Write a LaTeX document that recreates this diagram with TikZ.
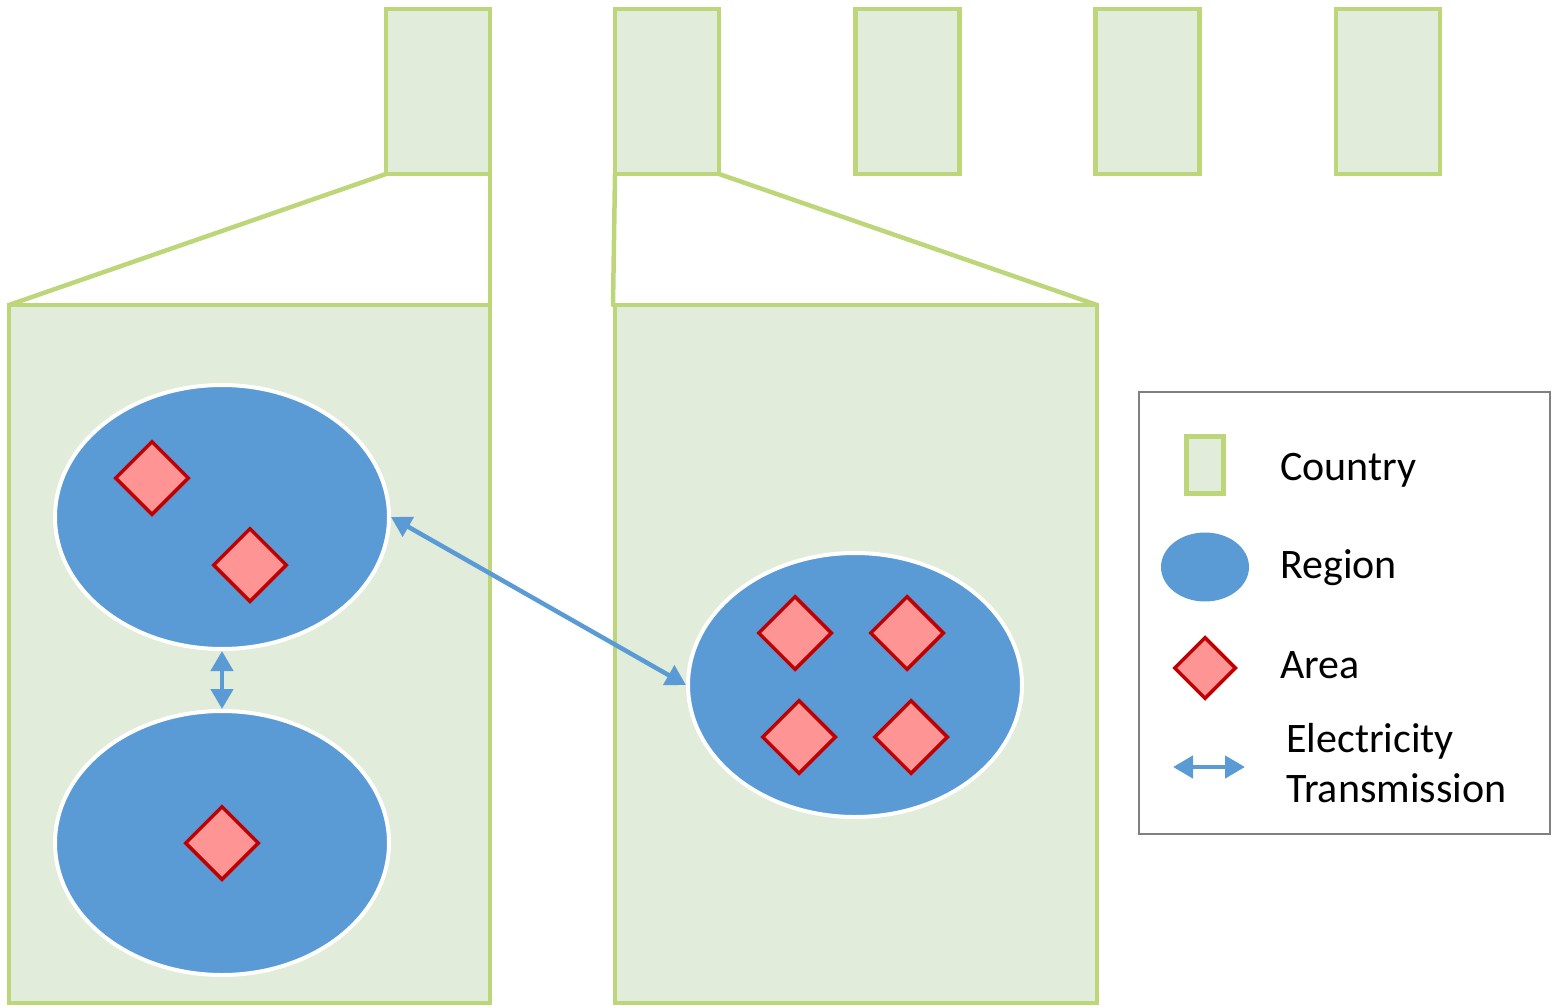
\documentclass[tikz,border=0pt]{standalone}
\usepackage{fontspec}
\setmainfont{Carlito}
\usetikzlibrary{shapes.geometric,arrows.meta}
\definecolor{cgreen}{HTML}{BED67A}
\definecolor{cfill}{HTML}{E2ECDA}
\definecolor{cblue}{HTML}{5B9BD5}
\definecolor{cpink}{HTML}{FF9494}
\definecolor{cred}{HTML}{C00000}
\definecolor{cgray}{HTML}{808080}
\tikzset{
  country/.style={draw=cgreen,fill=cfill,line width=4.5pt,rectangle,inner sep=0pt,outer sep=0pt},
  region/.style={ellipse,draw=white,fill=cblue,line width=4pt,inner sep=0pt,minimum width=334pt,minimum height=264pt},
  area/.style={diamond,draw=cred,fill=cpink,line width=3.5pt,inner sep=0pt,minimum width=74pt,minimum height=74pt},
  trans/.style={draw=cblue,line width=4.5pt,{Triangle[length=20pt,width=22pt]}-{Triangle[length=20pt,width=22pt]}},
  zoomline/.style={draw=cgreen,line width=4.5pt,line cap=round},
  legtext/.style={anchor=west,inner sep=0pt,font=\fontsize{42}{50}\selectfont,align=left}
}
\begin{document}
\begin{tikzpicture}[x=1pt,y=-1pt]
\useasboundingbox (0,0) rectangle (1557,1008);
% big countries
\node[country,minimum width=481pt,minimum height=698pt] (bigL) at (249.5,654) {};
\node[country,minimum width=482pt,minimum height=698pt] (bigR) at (856,654) {};
% small countries
\node[country,minimum width=104pt,minimum height=165pt] (c1) at (438,91.5) {};
\node[country,minimum width=104pt,minimum height=165pt] (c2) at (667,91.5) {};
\node[country,minimum width=104pt,minimum height=165pt] (c3) at (907.5,91.5) {};
\node[country,minimum width=104pt,minimum height=165pt] (c4) at (1147.5,91.5) {};
\node[country,minimum width=104pt,minimum height=165pt] (c5) at (1388,91.5) {};
% zoom lines
\draw[zoomline] (c1.south west) -- (bigL.north west);
\draw[zoomline] (c1.south east) -- (bigL.north east);
\draw[zoomline] (c2.south west) -- ([xshift=-2pt]bigR.north west);
\draw[zoomline] (c2.south east) -- (bigR.north east);
% regions
\node[region] (r1) at (222,517) {};
\node[region] (r2) at (222,843) {};
\node[region] (r3) at (855,685) {};
% areas
\node[area] (a1) at (152,478) {};
\node[area] (a2) at (250,565) {};
\node[area] (a3) at (222,843) {};
\node[area] (a4) at (795,633) {};
\node[area] (a5) at (907,633) {};
\node[area] (a6) at (799,737) {};
\node[area] (a7) at (911,737) {};
% transmission
\draw[trans] (r1.south) -- (r2.north);
\draw[trans] (r1.east) -- (r3.west);
% legend
\node[draw=cgray,line width=2.5pt,rectangle,inner sep=0pt,minimum width=411pt,minimum height=442pt] (leg) at (1344.5,613) {};
\node[country,minimum width=37pt,minimum height=57pt] (lc) at (1205,465) {};
\node[ellipse,fill=cblue,inner sep=0pt,minimum width=88pt,minimum height=69pt] (lr) at (1205,567) {};
\node[area,minimum width=62pt,minimum height=62pt] (la) at (1205,668) {};
\coordinate (lt1) at (1173,767);
\coordinate (lt2) at (1245,767);
\draw[trans] (lt1) -- (lt2);
\node[legtext] (tc) at (1280,470) {Country};
\node[legtext] (tr) at (1280,568) {Region};
\node[legtext] (ta) at (1280,665) {Area};
\node[legtext] (tt) at (1286,763) {Electricity\\Transmission};
\end{tikzpicture}
\end{document}
